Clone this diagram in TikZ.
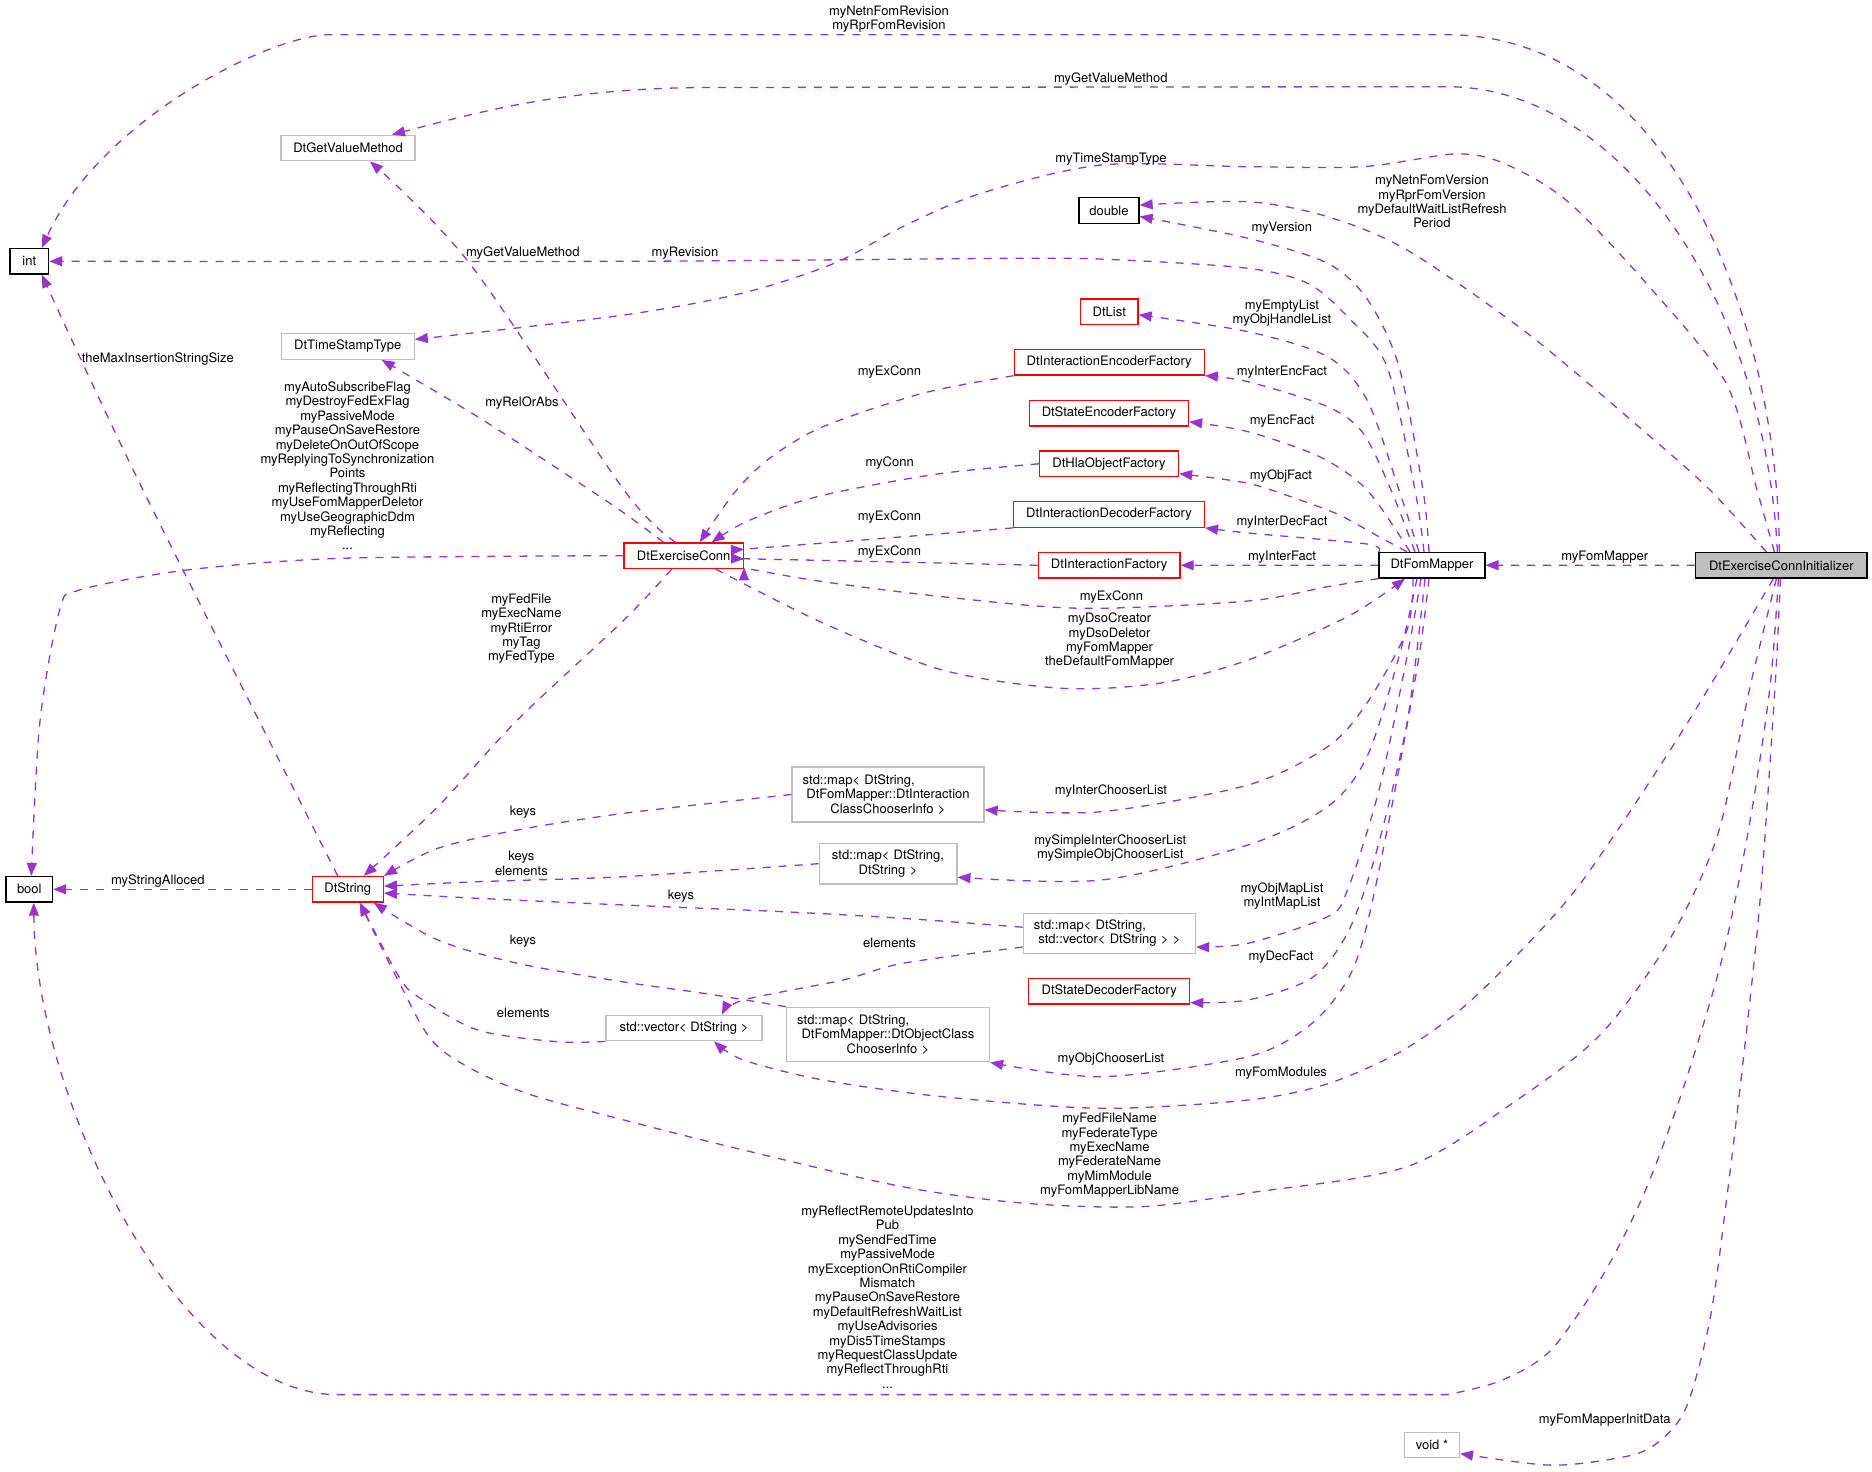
\documentclass[tikz,border=0pt]{standalone}
\usepackage{fontspec}
\setmainfont{TeX Gyre Heros}
\usetikzlibrary{arrows.meta}
\definecolor{edgepurple}{HTML}{9A32CD}
\definecolor{boxgray}{HTML}{BFBFBF}
\tikzset{
  cls/.style={draw, line width=1.3pt, inner xsep=4pt, inner ysep=2pt, minimum height=25.5pt, font=\fontsize{13}{14.4}\selectfont},
  blackcls/.style={cls, draw=black},
  redcls/.style={cls, draw=red},
  graycls/.style={cls, draw=boxgray},
  multicls/.style={graycls, inner xsep=10.7pt, align=center},
  usage/.style={draw=edgepurple, line width=1.3pt, dash pattern=on 8pt off 8pt, -{Triangle[length=13pt,width=10pt,fill=edgepurple]}},
  lbl/.style={font=\fontsize{13}{14.4}\selectfont, align=center, inner sep=0pt}
}
\begin{document}
\begin{tikzpicture}[x=1pt, y=-1pt]
    \useasboundingbox (0,0) rectangle (1872,1472);

    % Klassen
    \node[blackcls, minimum width=38.6pt] (int) at (29.3,261.3) {int};
    \node[graycls, minimum width=134pt] (getval) at (348,148) {DtGetValueMethod};
    \node[graycls, minimum width=133pt] (tstamp) at (347.7,346.5) {DtTimeStampType};
    \node[blackcls, minimum width=60pt] (dbl) at (1109,210.5) {double};
    \node[redcls, minimum width=57.5pt] (dtlist) at (1109.3,311.7) {DtList};
    \node[redcls, minimum width=190pt] (ienc) at (1109.2,362.3) {DtInteractionEncoderFactory};
    \node[redcls, minimum width=159pt] (senc) at (1109,413.3) {DtStateEncoderFactory};
    \node[redcls, minimum width=139pt] (hlaobj) at (1109,463.8) {DtHlaObjectFactory};
    \node[redcls, minimum width=190.7pt] (idec) at (1109,514.5) {DtInteractionDecoderFactory};
    \node[redcls, minimum width=141.7pt] (ifact) at (1109.2,565.3) {DtInteractionFactory};
    \node[redcls, minimum width=119.4pt] (exconn) at (683.7,555.7) {DtExerciseConn};
    \node[blackcls, minimum width=105.8pt] (fommap) at (1432,565.2) {DtFomMapper};
    \node[blackcls, fill=boxgray, minimum width=171.2pt] (init) at (1781.4,565.3) {DtExerciseConnInitializer};
    \node[multicls, text width=170.6pt, minimum height=55pt] (mapinter) at (888,794.5)
        {\makebox[\linewidth][l]{std::map< DtString,}\\DtFomMapper::DtInteraction\\ClassChooserInfo >};
    \node[multicls, text width=116.3pt, minimum height=40.7pt] (mapsimple) at (888,863.7)
        {std::map< DtString,\\DtString >};
    \node[multicls, text width=150.9pt, minimum height=40pt] (mapvec) at (1109.4,933.3)
        {\makebox[\linewidth][l]{std::map< DtString,}\\std::vector< DtString > >};
    \node[redcls, minimum width=160.8pt] (sdec) at (1109.2,991.3) {DtStateDecoderFactory};
    \node[graycls, minimum width=156pt] (vecstr) at (684,1028) {std::vector< DtString >};
    \node[multicls, text width=181.6pt, minimum height=54.4pt] (mapobj) at (888,1034.5)
        {\makebox[\linewidth][l]{std::map< DtString,}\\DtFomMapper::DtObjectClass\\ChooserInfo >};
    \node[graycls, minimum width=55pt] (voidp) at (1431.9,1445) {void *};
    \node[blackcls, minimum width=46.5pt] (bool) at (29.3,889.3) {bool};
    \node[redcls, minimum width=71pt] (dtstr) at (347.8,889.3) {DtString};

    % DtExerciseConnInitializer
    \draw[usage] ([xshift=-2pt]init.north) .. controls (1778,320) and (1670,34.7) .. (1447,34.7)
        -- (330,34.7) .. controls (270,34.7) and (100,120) .. ([xshift=12.5pt]int.north);
    \draw[usage] ([xshift=-4pt]init.north) .. controls (1765,300) and (1620,86.7) .. (1447,86.7)
        -- (700,87.5) .. controls (560,89) and (480,112) .. ([xshift=44pt]getval.north);
    \draw[usage] plot[smooth] coordinates {([xshift=-7pt]init.north) (1757,490) (1726,383) (1646,283) (1566,200) (1503,163) (1455,154) (1363,166.7) (1248,166.7) (1101.6,165) (982,193) (902.6,226.7) (835,263) (743,293) (624,315) (tstamp.6)};
    \draw[usage] plot[smooth] coordinates {([xshift=-15pt]init.north) (1710,490) (1646,433) (1527,333) (1407,250) (1327.6,216.7) (1248,201.7) (dbl.10)};
    \draw[usage] (init.west) -- (fommap.east);
    \draw[usage] plot[smooth] coordinates {([xshift=-3pt]init.south) (1770,687) (1750,821) (1723,955) (1683,1089) (1643,1196) (1600,1280) (1550,1351) (1500,1381) (1447,1394.7)}
        -- (338,1394.7) .. controls (180,1394.7) and (35,1100) .. ([xshift=4.5pt]bool.south);
    \draw[usage] plot[smooth] coordinates {([xshift=-1pt]init.south) (1775,687) (1760,901) (1743,1062) (1727,1196) (1710,1319) (1685,1410) (1650,1448) (1606,1460) (1546.5,1465) (voidp.-17)};
    \draw[usage] plot[smooth] coordinates {([xshift=-5pt]init.south) (1750,687) (1717,837) (1667,944) (1600,1035) (1517,1100) (1407,1166.7) (1248,1193) (1141,1206.7) (1022,1203) (902.6,1186.7) (743.4,1150) (624,1120) (517.4,1090) (437.8,1046.7) (398,980) ([xshift=12pt]dtstr.south)};
    \draw[usage] plot[smooth] coordinates {([xshift=-8pt]init.south) (1683,730) (1583,880) (1517,955) (1460,1010) (1400,1052) (1327,1084) (1248,1100) (1101.6,1108.3) (942.4,1096.7) (823,1080) (743.4,1060) ([xshift=30pt]vecstr.south)};

    % DtFomMapper
    \draw[usage] plot[smooth] coordinates {([xshift=-3pt]fommap.north) (1423,490) (1399,366.7) (1367.8,300) (1327.6,263.3) (1248,238.3) (dbl.-11)};
    \draw[usage] plot[smooth] coordinates {([xshift=-8pt]fommap.north) (1415,490) (1387,366.7) (1347.5,316.7) (1307.7,283.3) (1248,268.3) (1121.5,260) (1022,258.3) (624,261.3) (int.east)};
    \draw[usage] plot[smooth] coordinates {([xshift=-13pt]fommap.north) (1399,490) (1367,400) (1327.6,356.7) (1248,331.7) (dtlist.-6)};
    \draw[usage] plot[smooth] coordinates {([xshift=-17pt]fommap.north) (1391,490) (1363,433) (1327.6,406.7) (1248,381.7) (ienc.south east)};
    \draw[usage] plot[smooth] coordinates {([xshift=-22pt]fommap.north) (1367,490) (1319.6,456.7) (1248,431.7) (senc.-6)};
    \draw[usage] plot[smooth] coordinates {([xshift=-25pt]fommap.north) (1379,536.7) (1339.5,515) (1300,500) (1248,483.3) (hlaobj.-8)};
    \draw[usage] plot[smooth] coordinates {(fommap.north west) (1367,544) (1248,533) (idec.south east)};
    \draw[usage] (fommap.west) -- (ifact.east);
    \draw[usage] plot[smooth] coordinates {(fommap.south west) (1327.6,586.7) (1248,601) (1081.7,608.3) (942.4,596.7) (823,581.7) (755,570) (exconn.-11)};
    \draw[usage] plot[smooth] coordinates {([xshift=-19pt]fommap.south) (1407,630) (1367,703) (1327.6,746.7) (1248,785) (1101.6,811.7) (mapinter.-9)};
    \draw[usage] plot[smooth] coordinates {([xshift=-15pt]fommap.south) (1399,656.7) (1367,756.7) (1327.6,806.7) (1248,845) (1101.6,880) (mapsimple.-11)};
    \draw[usage] plot[smooth] coordinates {([xshift=-11pt]fommap.south) (1407,656.7) (1379,790) (1347.5,890) (1327.6,916.7) (1248,943.3) (mapvec.-9)};
    \draw[usage] plot[smooth] coordinates {([xshift=-7pt]fommap.south) (1407,723) (1375,856.7) (1347.5,933) (1311.7,978) (1248,1000) (sdec.-8)};
    \draw[usage] plot[smooth] coordinates {([xshift=-3pt]fommap.south) (1419,656.7) (1395,790) (1367.4,923) (1347.5,980) (1310,1025) (1248,1056.7) (1101.6,1076.7) (mapobj.south east)};

    % DtExerciseConn
    \draw[usage] plot[smooth] coordinates {([xshift=32pt]exconn.south) (823,623) (942.4,670) (1061.8,688.3) (1161,683) (1248,660) (1347.5,616.7) ([xshift=-27pt]fommap.south)};
    \draw[usage] plot[smooth] coordinates {([xshift=-8pt]exconn.north) (624,490) (469.6,263.3) ([xshift=22pt]getval.south)};
    \draw[usage] plot[smooth] coordinates {([xshift=-20pt]exconn.north) (624,513) (585,486.7) (477.6,416.7) ([xshift=34pt]tstamp.south)};
    \draw[usage] plot[smooth] coordinates {(exconn.west) (342,558.3) (187,570) (79.6,590) (59.7,610) (39.8,723) ([xshift=2pt]bool.north)};
    \draw[usage] plot[smooth] coordinates {([xshift=-12pt]exconn.south) (624,620) (517.4,720) (437.8,806.7) ([xshift=16pt]dtstr.north)};

    % Fabriken
    \draw[usage] plot[smooth] coordinates {(ienc.south west) (922.5,393.3) (823,426.7) (770,458) (735,492) ([xshift=16pt]exconn.north)};
    \draw[usage] plot[smooth] coordinates {(hlaobj.west) (942.4,473.3) (847,490) (795,503) (743.4,523) ([xshift=28pt]exconn.north)};
    \draw[usage] plot[smooth] coordinates {(idec.south west) (862.8,540) (755,548.3) (exconn.6)};
    \draw[usage] plot[smooth] coordinates {(ifact.west) (882.7,561.7) (755,559) (exconn.-3)};

    % DtString und Container
    \draw[usage] plot[smooth] coordinates {([xshift=-10pt]dtstr.north) (143,490) ([xshift=12.5pt]int.south)};
    \draw[usage] (dtstr.west) -- (bool.east);
    \draw[usage] plot[smooth] coordinates {(mapinter.west) (624,813.3) (517.4,830) (437.8,848.3) (dtstr.north east)};
    \draw[usage] plot[smooth] coordinates {(mapsimple.west) (624,876.7) (477.6,881.7) (dtstr.5)};
    \draw[usage] plot[smooth] coordinates {(mapvec.176) (902.6,918.3) (783,911.7) (624,905) (477.6,898.3) (dtstr.-6)};
    \draw[usage] plot[smooth] coordinates {(mapvec.-171) (902.6,963.3) (843,980) (743.4,1000) ([xshift=38pt]vecstr.north)};
    \draw[usage] plot[smooth] coordinates {(mapobj.north west) (703.6,993.3) (624,982) (517.4,963.3) (437.8,940) ([xshift=26pt]dtstr.south)};
    \draw[usage] plot[smooth] coordinates {(vecstr.south west) (557.2,1041.7) (477.6,1030) (418,996.7) (398,975) ([xshift=12pt]dtstr.south)};

    % Beschriftungen
    \node[lbl] (lNetnRev) at (889,19.2) {myNetnFomRevision\\myRprFomRevision};
    \node[lbl] (lGetValInit) at (1110.8,79) {myGetValueMethod};
    \node[lbl] (lTStamp) at (1111,158.7) {myTimeStampType};
    \node[lbl] (lNetnVer) at (1432,201.6) {myNetnFomVersion\\myRprFomVersion\\myDefaultWaitListRefresh\\Period};
    \node[lbl] (lVersion) at (1281.8,227.7) {myVersion};
    \node[lbl] (lRevision) at (685,252.7) {myRevision};
    \node[lbl] (lGetValConn) at (522.9,252.7) {myGetValueMethod};
    \node[lbl] (lEmpty) at (1282,313.3) {myEmptyList\\myObjHandleList};
    \node[lbl] (lMaxIns) at (157.8,358.7) {theMaxInsertionStringSize};
    \node[lbl] (lExConnA) at (889.5,371.7) {myExConn};
    \node[lbl] (lInterEnc) at (1282,371.7) {myInterEncFact};
    \node[lbl] (lRelOrAbs) at (522,402.7) {myRelOrAbs};
    \node[lbl] (lFlagsConn) at (347.5,465.9) {myAutoSubscribeFlag\\myDestroyFedExFlag\\myPassiveMode\\myPauseOnSaveRestore\\myDeleteOnOutOfScope\\myReplyingToSynchronization\\Points\\myReflectingThroughRti\\myUseFomMapperDeletor\\myUseGeographicDdm\\myReflecting\\...};
    \node[lbl] (lEncFact) at (1282,420.7) {myEncFact};
    \node[lbl] (lConn) at (889.7,462.7) {myConn};
    \node[lbl] (lObjFact) at (1281,475.7) {myObjFact};
    \node[lbl] (lExConnB) at (889.5,516.7) {myExConn};
    \node[lbl] (lInterDec) at (1282,522) {myInterDecFact};
    \node[lbl] (lExConnC) at (889.5,551.7) {myExConn};
    \node[lbl] (lInterFact) at (1282,557) {myInterFact};
    \node[lbl] (lFomMapper) at (1604.8,556.7) {myFomMapper};
    \node[lbl] (lExConnD) at (1111.5,596.7) {myExConn};
    \node[lbl] (lDso) at (1109.6,640.9) {myDsoCreator\\myDsoDeletor\\myFomMapper\\theDefaultFomMapper};
    \node[lbl] (lFedFile) at (521.4,628.8) {myFedFile\\myExecName\\myRtiError\\myTag\\myFedType};
    \node[lbl] (lInterChooser) at (1111,790.7) {myInterChooserList};
    \node[lbl] (lKeysA) at (523,811.7) {keys};
    \node[lbl] (lSimple) at (1110.3,848.2) {mySimpleInterChooserList\\mySimpleObjChooserList};
    \node[lbl] (lKeysElem) at (521.4,863.2) {keys\\elements};
    \node[lbl] (lAlloced) at (157.8,880.7) {myStringAlloced};
    \node[lbl] (lMapList) at (1282,895.8) {myObjMapList\\myIntMapList};
    \node[lbl] (lKeysB) at (681,896) {keys};
    \node[lbl] (lKeysC) at (523,940.7) {keys};
    \node[lbl] (lElemA) at (889.5,943.3) {elements};
    \node[lbl] (lDecFact) at (1281,956.7) {myDecFact};
    \node[lbl] (lElemB) at (523.3,1012.7) {elements};
    \node[lbl] (lObjChooser) at (1111,1058.7) {myObjChooserList};
    \node[lbl] (lFomModules) at (1281,1073) {myFomModules};
    \node[lbl] (lFedFileName) at (1109.6,1155.3) {myFedFileName\\myFederateType\\myExecName\\myFederateName\\myMimModule\\myFomMapperLibName};
    \node[lbl] (lFlagsInit) at (887.5,1297.1) {myReflectRemoteUpdatesInto\\Pub\\mySendFedTime\\myPassiveMode\\myExceptionOnRtiCompiler\\Mismatch\\myPauseOnSaveRestore\\myDefaultRefreshWaitList\\myUseAdvisories\\myDis5TimeStamps\\myRequestClassUpdate\\myReflectThroughRti\\...};
    \node[lbl] (lInitData) at (1604.8,1420) {myFomMapperInitData};
\end{tikzpicture}
\end{document}
